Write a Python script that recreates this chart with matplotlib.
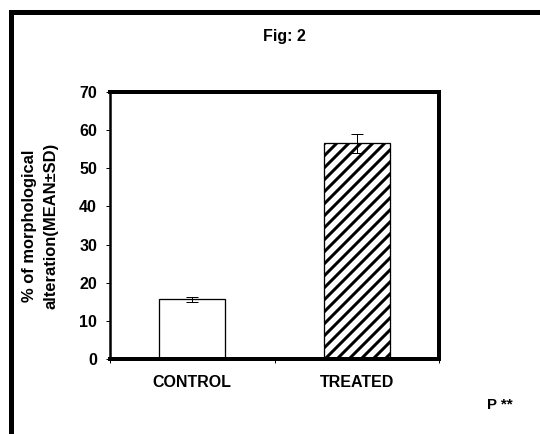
import matplotlib
matplotlib.use("Agg")
import matplotlib.pyplot as plt
from matplotlib.patches import Rectangle
import numpy as np

categories = ["CONTROL", "TREATED"]
means = [15.6, 56.5]
sds = [0.6, 2.4]
hatches = ["", "//"]

plt.rcParams["font.family"] = ["Liberation Sans", "DejaVu Sans"]
plt.rcParams["font.weight"] = "bold"
plt.rcParams["hatch.linewidth"] = 3.0

# dpi 72 so that points == pixels and the hatch spacing matches the original
fig = plt.figure(figsize=(540 / 72, 434 / 72), dpi=72)
ax = fig.add_axes([110 / 540, 1 - 359 / 434, 329 / 540, 267 / 434])

x = np.arange(len(categories))
for i in range(len(categories)):
    ax.bar(x[i], means[i], width=0.4, color="white", edgecolor="black",
           linewidth=1.3, hatch=hatches[i], zorder=2)
ax.errorbar(x, means, yerr=sds, fmt="none", ecolor="black", elinewidth=1,
            capsize=6, capthick=1, zorder=3)

ax.set_xlim(-0.5, 1.5)
ax.set_ylim(0, 70)
ax.set_yticks(range(0, 71, 10))
ax.set_xticks(x)
ax.set_xticklabels(categories, fontsize=16, fontweight="bold")
ax.set_xticks([-0.5, 0.5, 1.5], minor=True)
ax.tick_params(axis="x", which="major", length=0, pad=16)
ax.tick_params(axis="x", which="minor", length=4, width=1, direction="out")
ax.tick_params(axis="y", length=4, width=1, direction="out", pad=9, labelsize=16)
for lbl in ax.get_yticklabels():
    lbl.set_fontweight("bold")
for s in ["top", "right", "bottom"]:
    ax.spines[s].set_linewidth(4)
ax.spines["left"].set_linewidth(2.5)

ax.set_ylabel("% of morphological\nalteration(MEAN±SD)", fontsize=16.5,
              fontweight="bold", labelpad=21, linespacing=1.55)

fig.text(284 / 540, 1 - 36 / 434, "Fig: 2", ha="center", va="center",
         fontsize=16, fontweight="bold")
fig.text(500 / 540, 1 - 405 / 434, "P **", ha="center", va="center",
         fontsize=15, fontweight="bold")

# outer frame, running off the right and bottom edges
fig.patches.append(Rectangle((10.5 / 540, -0.1), 1.2, 1.1 - 12.5 / 434,
                             transform=fig.transFigure, fill=False,
                             edgecolor="black", linewidth=5, clip_on=False))

fig.savefig("out.png", dpi=72)
